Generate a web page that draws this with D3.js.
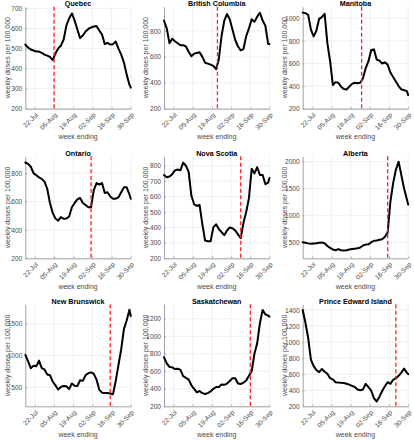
<!DOCTYPE html>
<html>
<head>
<meta charset="utf-8">
<script src="https://cdn.jsdelivr.net/npm/d3@7"></script>
<style>
  html, body { margin: 0; padding: 0; background: #fff; }
  svg { display: block; }
  text { font-family: "Liberation Sans", Arial, Helvetica, sans-serif; }
</style>
</head>
<body>
<svg id="chart" width="414" height="440"></svg>
<script>
// ---------------- data ----------------
const dates = ["2021-07-15","2021-07-17","2021-07-19","2021-07-21","2021-07-23","2021-07-25","2021-07-27","2021-07-29","2021-07-31",
  "2021-08-02","2021-08-04","2021-08-06","2021-08-08","2021-08-10","2021-08-12","2021-08-14","2021-08-16","2021-08-18","2021-08-20",
  "2021-08-22","2021-08-24","2021-08-26","2021-08-28","2021-08-30","2021-09-01","2021-09-03","2021-09-05","2021-09-07","2021-09-09",
  "2021-09-11","2021-09-13","2021-09-15","2021-09-17","2021-09-19","2021-09-21","2021-09-23","2021-09-25","2021-09-27","2021-09-29","2021-09-30"];

const provinces = ["Quebec","British Columbia","Manitoba","Ontario","Nova Scotia","Alberta","New Brunswick","Saskatchewan","Prince Edward Island"];

const quebec = [520,505,495,490,485,485,478,470,465,458,442,475,500,515,545,615,650,675,640,595,552,565,585,598,605,610,612,590,570,522,528,520,522,535,500,470,430,370,320,305];
const britishColumbia = [880,820,705,740,720,705,690,690,680,640,605,625,630,635,600,555,548,540,530,505,580,760,880,930,890,810,730,680,650,660,760,820,890,870,910,940,880,840,700,700];
const manitoba = [1050,1045,1030,900,840,890,995,1010,1040,780,620,410,435,430,395,375,370,395,420,430,425,430,470,560,620,720,725,635,625,600,610,590,520,480,440,400,370,365,355,320];
const ontario = [875,865,845,800,785,770,760,740,690,590,520,480,465,490,478,480,495,560,590,615,625,590,575,560,560,680,730,720,730,660,665,635,620,620,630,665,700,700,650,620];
const novaScotia = [740,725,730,745,770,775,770,820,800,760,605,550,540,545,420,315,310,310,400,420,390,370,350,380,400,395,380,355,330,430,500,590,780,750,790,740,740,680,690,720];
const alberta = [500,490,478,470,475,480,490,495,480,430,395,365,350,370,350,345,350,365,375,380,385,400,440,455,460,500,525,530,545,555,600,680,1250,1600,1850,2000,1750,1500,1300,1200];
const newBrunswick = [1010,910,800,840,830,920,800,780,700,690,590,530,465,505,520,515,470,560,525,520,610,600,690,720,735,710,620,460,415,410,410,400,390,600,850,1100,1420,1550,1720,1620];
const saskatchewan = [760,690,650,645,625,630,615,545,525,505,440,400,360,375,350,340,350,370,400,420,420,450,445,460,490,520,520,460,455,470,495,550,600,800,920,1150,1300,1250,1235,1225];
const princeEdwardIsland = [1400,1240,1050,780,700,650,625,665,630,605,550,535,500,495,492,490,480,470,455,440,410,400,410,480,440,395,300,260,320,390,450,500,480,530,550,580,620,670,620,600];

const seriesValues = [quebec, britishColumbia, manitoba, ontario, novaScotia, alberta, newBrunswick, saskatchewan, princeEdwardIsland];

// date the policy was announced (red dashed line)
const policyDates = ["2021-08-05","2021-08-23","2021-08-27","2021-09-01","2021-09-09","2021-09-15","2021-09-15","2021-09-16","2021-09-21"];

// tick labels
const xTickDates = ["2021-07-22","2021-08-05","2021-08-19","2021-09-02","2021-09-16","2021-09-30"];
const xTickLabels = ["22-Jul","05-Aug","19-Aug","02-Sep","16-Sep","30-Sep"];
const yTicks = [
  [200,300,400,500,600,700],
  [200,400,600,800],
  [200,400,600,800,1000],
  [200,400,600,800],
  [200,300,400,500,600,700,800],
  [500,1000,1500,2000],
  [500,1000,1500],
  [200,400,600,800,1000,1200],
  [200,400,600,800,1000,1200,1400]
];
const xDomain = ["2021-07-15","2021-09-30"];
const yMin = 200;

// ---------------- layout ----------------
const colLeft = [25.3, 164, 302.7];
const rowTop = [6.7, 156.3, 304.3];
const pw = 105.5, ph = 102;

const parse = d3.utcParse("%Y-%m-%d");
const svg = d3.select("#chart");

provinces.forEach((name, i) => {
  const col = i % 3, row = Math.floor(i / 3);
  const left = colLeft[col], top = rowTop[row];
  const vals = seriesValues[i];

  const x = d3.scaleUtc().domain(xDomain.map(parse)).range([left, left + pw]);
  const y = d3.scaleLinear().domain([yMin, d3.max(vals) * 1.05]).range([top + ph, top]);

  const g = svg.append("g");

  // grid
  const grid = g.append("g").attr("stroke", "#d4d4d4").attr("stroke-width", 0.7).attr("stroke-dasharray", "1,1");
  xTickDates.forEach(d => {
    grid.append("line").attr("x1", x(parse(d))).attr("x2", x(parse(d)))
      .attr("y1", top).attr("y2", top + ph);
  });
  yTicks[i].forEach(v => {
    grid.append("line").attr("x1", left).attr("x2", left + pw)
      .attr("y1", y(v)).attr("y2", y(v));
  });

  // axes
  const ya = g.append("g").attr("transform", `translate(${left},0)`)
    .call(d3.axisLeft(y).tickValues(yTicks[i]).tickFormat(d3.format("d"))
      .tickSizeInner(-2).tickSizeOuter(0).tickPadding(3));
  const xa = g.append("g").attr("transform", `translate(0,${top + ph})`)
    .call(d3.axisBottom(x).tickValues(xTickDates.map(parse)).tickFormat((d, k) => xTickLabels[k])
      .tickSizeInner(-2).tickSizeOuter(0).tickPadding(3));
  [ya, xa].forEach(a => {
    a.select(".domain").attr("stroke", "#8c8c8c").attr("stroke-width", 0.8);
    a.selectAll(".tick line").attr("stroke", "#8c8c8c").attr("stroke-width", 0.6);
    a.selectAll("text").attr("fill", "#4a4a4a").attr("font-size", 6.6);
  });
  xa.selectAll("text")
    .attr("text-anchor", "end")
    .attr("x", 0).attr("y", 0).attr("dy", "0.35em")
    .attr("transform", "translate(1.5,5) rotate(-45)");

  // data line
  const pts = dates.map((d, k) => [parse(d), vals[k]]);
  g.append("path").datum(pts)
    .attr("fill", "none").attr("stroke", "#000").attr("stroke-width", 2)
    .attr("stroke-linejoin", "round").attr("stroke-linecap", "round")
    .attr("d", d3.line().x(p => x(p[0])).y(p => y(p[1])));

  // policy line
  const px = x(parse(policyDates[i]));
  g.append("line").attr("x1", px).attr("x2", px).attr("y1", top).attr("y2", top + ph)
    .attr("stroke", "#ff2020").attr("stroke-width", 1.3).attr("stroke-dasharray", "4,2.5");

  // title
  g.append("text").attr("x", left + pw / 2).attr("y", top - 0.6)
    .attr("text-anchor", "middle").attr("font-weight", "bold").attr("font-size", 7.2)
    .attr("fill", "#000").text(name);

  // y label
  g.append("text")
    .attr("transform", `translate(${left - 18},${top + ph / 2}) rotate(-90)`)
    .attr("text-anchor", "middle").attr("dy", "0.35em").attr("font-size", 7)
    .attr("fill", "#4a4a4a").text("weekly doses per 100,000");

  // x label
  g.append("text").attr("x", left + pw / 2).attr("y", top + ph + 30.5)
    .attr("text-anchor", "middle").attr("font-size", 7)
    .attr("fill", "#4a4a4a").text("week ending");
});
</script>
</body>
</html>
